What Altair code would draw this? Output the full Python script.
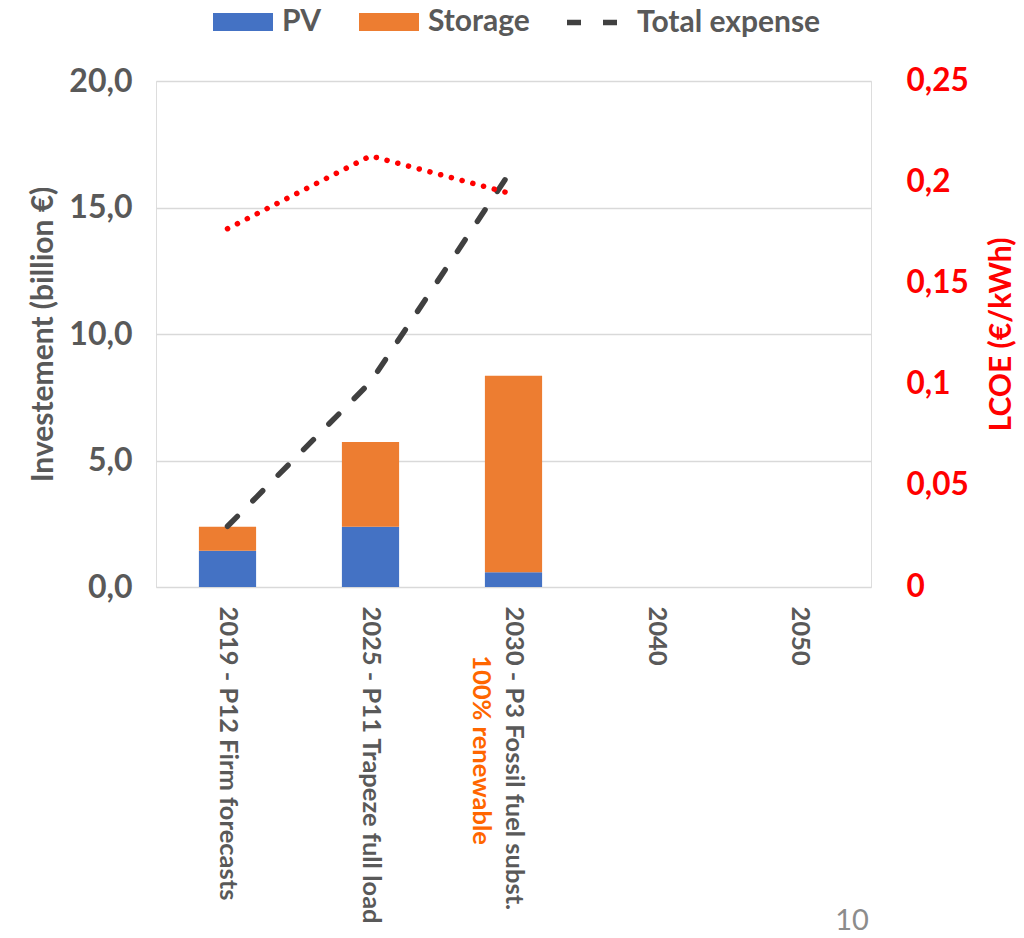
import altair as alt
import pandas as pd

# Scenario categories along the x axis
categories = [
    "2019 - P12 Firm forecasts",
    "2025 - P11 Trapeze full load",
    "2030 - P3 Fossil fuel subst.",
    "2040",
    "2050",
]
# Investment split (billion €)
pv = [1.43, 2.38, 0.58, None, None]
storage = [0.95, 3.35, 7.77, None, None]
# Cumulated expense (billion €)
total_expense = [2.4, 8.1, 16.6, None, None]
# Levelised cost of energy (€/kWh)
lcoe = [0.177, 0.213, 0.194, None, None]

note_category = "2030 - P3 Fossil fuel subst."
note_text = "100% renewable"
page_number = "10"

FONT = "Lato"
GREY = "#595959"
BLUE = "#4472C4"
ORANGE = "#ED7D31"
RED = "#FF0000"

W, H = 715, 506

bar_rows = []
for c, p, s in zip(categories, pv, storage):
    if p is not None:
        bar_rows.append({"category": c, "series": "PV", "value": p, "order": 0})
    if s is not None:
        bar_rows.append({"category": c, "series": "Storage", "value": s, "order": 1})
bars_df = pd.DataFrame(bar_rows)

exp_df = pd.DataFrame(
    [{"category": c, "series": "Total expense", "value": v}
     for c, v in zip(categories, total_expense) if v is not None]
)
lcoe_df = pd.DataFrame(
    [{"category": c, "lcoe": v} for c, v in zip(categories, lcoe) if v is not None]
)
note_df = pd.DataFrame([{"category": note_category, "note": note_text}])
page_df = pd.DataFrame([{"page": page_number}])

x_scale = alt.Scale(domain=categories, paddingInner=0.6, paddingOuter=0.3)
x_axis = alt.Axis(
    title=None, labelAngle=90, labelAlign="left", labelBaseline="middle",
    labelPadding=19, domain=False, ticks=False, labelFont=FONT,
    labelFontSize=25.5, labelFontWeight="bold", labelColor=GREY, labelLimit=400,
)
x_enc = alt.X("category:N", sort=categories, scale=x_scale, axis=x_axis)

y_scale = alt.Scale(domain=[0, 20], nice=False)
y_axis = alt.Axis(
    title="Investement (billion €)", values=[0, 5, 10, 15, 20],
    labelExpr="replace(format(datum.value, '.1f'), '.', ',')",
    domain=False, ticks=False, labelPadding=24, grid=True,
    gridColor="#D9D9D9", gridWidth=1.5,
    labelFont=FONT, labelFontSize=32, labelFontWeight="bold", labelColor=GREY,
    titleFont=FONT, titleFontSize=30, titleFontWeight="bold", titleColor=GREY,
    titleX=-113, titleY=H / 2, titleBaseline="middle", titleAngle=270,
)

bars = alt.Chart(bars_df).mark_bar().encode(
    x=x_enc,
    y=alt.Y("value:Q", scale=y_scale, axis=y_axis, stack="zero"),
    color=alt.Color(
        "series:N",
        scale=alt.Scale(domain=["PV", "Storage"], range=[BLUE, ORANGE]),
        legend=alt.Legend(
            title=None, orient="none", legendX=57, legendY=-89,
            direction="horizontal", symbolType="M-1,-0.3H1V0.3H-1Z",
            symbolSize=3600, symbolStrokeWidth=0, labelOffset=9,
            columnPadding=37, padding=0,
            labelFont=FONT, labelFontSize=30, labelFontWeight="bold",
            labelColor=GREY,
        ),
    ),
    order=alt.Order("order:Q"),
)

expense = alt.Chart(exp_df).mark_line(
    color="#404040", strokeWidth=5.5, strokeCap="round"
).encode(
    x=x_enc,
    y=alt.Y("value:Q", scale=y_scale, axis=y_axis),
    strokeDash=alt.StrokeDash(
        "series:N",
        scale=alt.Scale(domain=["Total expense"], range=[[14, 22]]),
        legend=alt.Legend(
            title=None, orient="none", legendX=408, legendY=-89,
            symbolType="stroke", symbolSize=3025, symbolStrokeWidth=5.5,
            symbolStrokeColor="#404040",
            labelOffset=12, padding=0, labelLimit=400,
            labelFont=FONT, labelFontSize=30, labelFontWeight="bold",
            labelColor=GREY,
        ),
    ),
)

# Second line of the 2030 label, drawn in orange beside the axis label
note = alt.Chart(note_df).mark_text(
    angle=90, align="center", baseline="middle", font=FONT, fontSize=25.5,
    fontWeight="bold", color="#FF6600", dy=33,
).encode(
    x=x_enc,
    y=alt.value(669),
    text="note:N",
)

page = alt.Chart(page_df).mark_text(
    align="center", baseline="middle", font=FONT, fontSize=29,
    color="#8C8C8C",
).encode(
    x=alt.value(696),
    y=alt.value(840),
    text="page:N",
)

lcoe_line = alt.Chart(lcoe_df).mark_line(
    color=RED, strokeWidth=5.5, strokeCap="round", strokeDash=[0.1, 11]
).encode(
    x=x_enc,
    y=alt.Y(
        "lcoe:Q",
        scale=alt.Scale(domain=[0, 0.25], nice=False),
        axis=alt.Axis(
            title="LCOE (€/kWh)", orient="right",
            values=[0, 0.05, 0.1, 0.15, 0.2, 0.25],
            labelExpr="replace(format(datum.value, '~g'), '.', ',')",
            domain=False, ticks=False, grid=False, labelPadding=35,
            labelFont=FONT, labelFontSize=31.5, labelFontWeight="bold",
            labelColor=RED,
            titleFont=FONT, titleFontSize=30, titleFontWeight="bold",
            titleColor=RED, titleX=130, titleY=H / 2, titleAngle=270,
            titleBaseline="middle",
        ),
    ),
)

left = alt.layer(bars, expense, note, page)
chart = (
    alt.layer(left, lcoe_line)
    .resolve_scale(y="independent", color="independent", strokeDash="independent")
    .properties(
        width=W, height=H,
        autosize=alt.AutoSizeParams(type="none"),
        padding={"left": 156, "top": 81, "right": 153, "bottom": 351},
    )
    .configure_view(stroke=None)
    .configure(background="white")
)

chart.save("out.html", embed_options={"renderer": "svg", "actions": False})
